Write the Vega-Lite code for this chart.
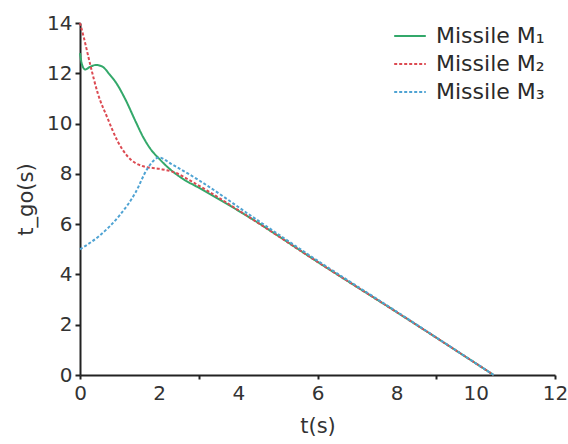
{
  "$schema": "https://vega.github.io/schema/vega-lite/v6.json",
  "width": 475,
  "height": 352,
  "autosize": {"type": "none"},
  "padding": {"left": 80, "top": 23, "right": 13, "bottom": 69},
  "background": "white",
  "config": {
    "view": {"stroke": null},
    "font": "DejaVu Sans",
    "axis": {"grid": false, "domainColor": "#222", "domainWidth": 2, "tickColor": "#222", "tickWidth": 2, "labelColor": "#333", "titleColor": "#333", "labelFontSize": 20, "titleFontSize": 21, "titleFontWeight": "normal", "labelFont": "DejaVu Sans", "titleFont": "DejaVu Sans"}
  },
  "data": {"values": [
    {"t": 0, "v": 12.8, "s": "Missile M₁"},
    {"t": 0.05, "v": 12.35, "s": "Missile M₁"},
    {"t": 0.13, "v": 12.15, "s": "Missile M₁"},
    {"t": 0.25, "v": 12.25, "s": "Missile M₁"},
    {"t": 0.4, "v": 12.33, "s": "Missile M₁"},
    {"t": 0.55, "v": 12.28, "s": "Missile M₁"},
    {"t": 0.75, "v": 11.95, "s": "Missile M₁"},
    {"t": 0.9, "v": 11.65, "s": "Missile M₁"},
    {"t": 1.15, "v": 10.95, "s": "Missile M₁"},
    {"t": 1.4, "v": 10.1, "s": "Missile M₁"},
    {"t": 1.6, "v": 9.45, "s": "Missile M₁"},
    {"t": 1.8, "v": 8.95, "s": "Missile M₁"},
    {"t": 2.0, "v": 8.6, "s": "Missile M₁"},
    {"t": 2.3, "v": 8.15, "s": "Missile M₁"},
    {"t": 2.6, "v": 7.8, "s": "Missile M₁"},
    {"t": 3.0, "v": 7.45, "s": "Missile M₁"},
    {"t": 4.35, "v": 6.2, "s": "Missile M₁"},
    {"t": 6, "v": 4.5, "s": "Missile M₁"},
    {"t": 8, "v": 2.5, "s": "Missile M₁"},
    {"t": 10.45, "v": 0, "s": "Missile M₁"},
    {"t": 0, "v": 14.0, "s": "Missile M₂"},
    {"t": 0.1, "v": 13.4, "s": "Missile M₂"},
    {"t": 0.25, "v": 12.4, "s": "Missile M₂"},
    {"t": 0.45, "v": 11.2, "s": "Missile M₂"},
    {"t": 0.7, "v": 10.2, "s": "Missile M₂"},
    {"t": 0.95, "v": 9.3, "s": "Missile M₂"},
    {"t": 1.2, "v": 8.7, "s": "Missile M₂"},
    {"t": 1.6, "v": 8.3, "s": "Missile M₂"},
    {"t": 2.0, "v": 8.2, "s": "Missile M₂"},
    {"t": 2.4, "v": 8.05, "s": "Missile M₂"},
    {"t": 2.8, "v": 7.72, "s": "Missile M₂"},
    {"t": 3.3, "v": 7.25, "s": "Missile M₂"},
    {"t": 4.35, "v": 6.2, "s": "Missile M₂"},
    {"t": 6, "v": 4.5, "s": "Missile M₂"},
    {"t": 8, "v": 2.5, "s": "Missile M₂"},
    {"t": 10.45, "v": 0, "s": "Missile M₂"},
    {"t": 0, "v": 5.0, "s": "Missile M₃"},
    {"t": 0.5, "v": 5.55, "s": "Missile M₃"},
    {"t": 1.0, "v": 6.35, "s": "Missile M₃"},
    {"t": 1.4, "v": 7.25, "s": "Missile M₃"},
    {"t": 1.7, "v": 8.2, "s": "Missile M₃"},
    {"t": 2.0, "v": 8.65, "s": "Missile M₃"},
    {"t": 2.3, "v": 8.4, "s": "Missile M₃"},
    {"t": 3.0, "v": 7.75, "s": "Missile M₃"},
    {"t": 4.35, "v": 6.3, "s": "Missile M₃"},
    {"t": 6, "v": 4.55, "s": "Missile M₃"},
    {"t": 8, "v": 2.52, "s": "Missile M₃"},
    {"t": 10.45, "v": 0, "s": "Missile M₃"}
  ]},
  "mark": {"type": "line", "strokeWidth": 2, "interpolate": "monotone"},
  "encoding": {
    "x": {"field": "t", "type": "quantitative", "scale": {"domain": [0, 12], "nice": false, "zero": false},
      "axis": {"title": "t(s)", "values": [0, 2, 3, 4, 6, 8, 9, 10, 12], "labelExpr": "datum.value % 2 == 0 ? datum.label : ''", "tickOpacity": {"expr": "datum.value % 3 == 0 ? 1 : 0"}, "tickSize": 4, "labelPadding": 4, "titlePadding": 12, "labelFlush": false}},
    "y": {"field": "v", "type": "quantitative", "scale": {"domain": [0, 14], "nice": false},
      "axis": {"title": "t_go(s)", "values": [0, 2, 4, 6, 8, 10, 12, 14], "tickSize": 5, "labelPadding": 3, "titlePadding": 10, "labelFlush": false}},
    "color": {"field": "s", "type": "nominal", "scale": {"domain": ["Missile M₁", "Missile M₂", "Missile M₃"], "range": ["#33a86a", "#dc4a52", "#4fa3d3"]},
      "legend": {"title": null, "orient": "none", "legendX": 313, "legendY": -4, "symbolType": "stroke", "symbolSize": 1000, "symbolStrokeWidth": 2, "labelFontSize": 22, "labelColor": "#2a2a2a", "labelFont": "DejaVu Sans", "rowPadding": -7, "labelOffset": 9, "padding": 0}},
    "strokeDash": {"field": "s", "type": "nominal", "scale": {"domain": ["Missile M₁", "Missile M₂", "Missile M₃"], "range": [[1, 0], [3, 2], [3, 2]]}, "legend": null}
  }
}
